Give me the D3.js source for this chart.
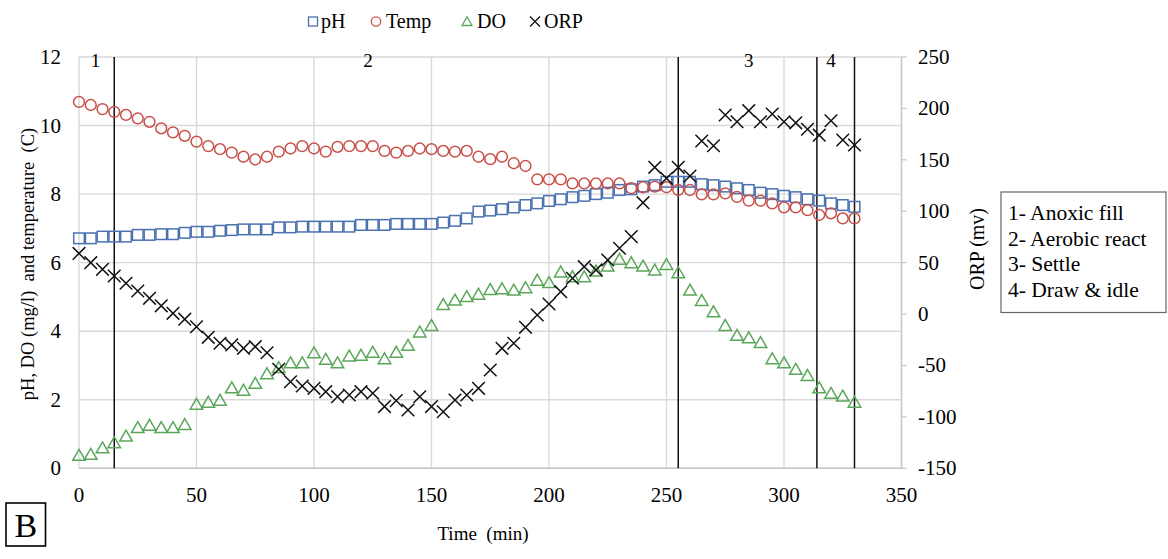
<!DOCTYPE html>
<html>
<head>
<meta charset="utf-8">
<script src="https://cdn.jsdelivr.net/npm/d3@7"></script>
<style>
  body { margin: 0; background: #fff; }
  svg text { font-family: "Liberation Serif", "Times New Roman", serif; fill: #000; }
</style>
</head>
<body>
<div id="chart"></div>
<script>
// sampling times (min)
const time = [0, 5, 10, 15, 20, 25, 30, 35, 40, 45, 50, 55, 60, 65, 70, 75, 80, 85, 90, 95,
  100, 105, 110, 115, 120, 125, 130, 135, 140, 145, 150, 155, 160, 165, 170, 175, 180, 185, 190, 195,
  200, 205, 210, 215, 220, 225, 230, 235, 240, 245, 250, 255, 260, 265, 270, 275, 280, 285, 290, 295,
  300, 305, 310, 315, 320, 325, 330];

const pH = [6.71, 6.71, 6.76, 6.76, 6.76, 6.81, 6.81, 6.83, 6.83, 6.87, 6.90, 6.90, 6.93, 6.95, 6.97, 6.97, 6.97, 7.03, 7.03, 7.05,
  7.05, 7.05, 7.05, 7.05, 7.10, 7.10, 7.10, 7.13, 7.13, 7.13, 7.13, 7.17, 7.22, 7.29, 7.49, 7.52, 7.56, 7.61, 7.68, 7.73,
  7.80, 7.85, 7.91, 7.95, 8.00, 8.04, 8.12, 8.14, 8.22, 8.26, 8.36, 8.36, 8.36, 8.29, 8.26, 8.22, 8.17, 8.12, 8.04, 8.00,
  7.95, 7.91, 7.85, 7.81, 7.73, 7.68, 7.63];

const temp = [10.69, 10.60, 10.48, 10.40, 10.31, 10.21, 10.11, 9.92, 9.80, 9.70, 9.53, 9.40, 9.31, 9.21, 9.09, 9.01, 9.09, 9.24, 9.33, 9.40,
  9.33, 9.24, 9.38, 9.40, 9.40, 9.40, 9.26, 9.21, 9.26, 9.33, 9.31, 9.26, 9.24, 9.26, 9.09, 9.02, 9.09, 8.90, 8.82, 8.43,
  8.43, 8.43, 8.31, 8.31, 8.31, 8.31, 8.31, 8.17, 8.20, 8.22, 8.20, 8.12, 8.12, 7.99, 7.99, 8.02, 7.92, 7.81, 7.81, 7.73,
  7.61, 7.61, 7.53, 7.39, 7.44, 7.29, 7.29];

const DO = [0.36, 0.39, 0.58, 0.73, 0.92, 1.17, 1.24, 1.17, 1.17, 1.26, 1.85, 1.91, 1.97, 2.33, 2.26, 2.46, 2.74, 2.92, 3.06, 3.06,
  3.35, 3.16, 3.06, 3.26, 3.28, 3.37, 3.18, 3.37, 3.57, 3.96, 4.15, 4.76, 4.89, 4.99, 5.06, 5.20, 5.22, 5.18, 5.25, 5.47,
  5.40, 5.71, 5.57, 5.57, 5.74, 5.88, 6.08, 5.98, 5.88, 5.77, 5.93, 5.69, 5.18, 4.88, 4.55, 4.15, 3.86, 3.79, 3.65, 3.18,
  3.06, 2.87, 2.69, 2.33, 2.17, 2.09, 1.91];

const ORP = [59, 50, 43.5, 37, 30, 22.4, 15.3, 8, 0.7, -5, -12.3, -22.6, -28.4, -30, -33.3, -31.7, -37.6, -53.7, -65.8, -70,
  -72.2, -75.5, -80.3, -78.7, -75.5, -77, -90, -84.2, -93.3, -80.4, -90, -95, -83.6, -78.7, -72.2, -54.4, -33.3, -28.4, -12.9, -0.9,
  9.8, 21.8, 34.8, 46.1, 42.9, 52.6, 64, 75.3, 108.3, 142.7, 132, 142.7, 134.3, 168.3, 163.7, 193.6, 187, 197.8, 187, 194.6,
  187, 186, 179.7, 174, 188, 169.3, 164.4];

// phase boundaries and labels
const phaseLines = [15, 255, 314, 330];
const phaseNames = ["1", "2", "3", "4"];
const phaseLabelAt = [7, 123, 285, 320];
const phaseLegend = ["1- Anoxic fill", "2- Aerobic react", "3- Settle", "4- Draw & idle"];

const xTicks = [0, 50, 100, 150, 200, 250, 300, 350];
const yLeftTicks = [0, 2, 4, 6, 8, 10, 12];
const yRightTicks = [-150, -100, -50, 0, 50, 100, 150, 200, 250];

const width = 1168, height = 559;
const plotLeft = 79, plotRight = 901.5, plotTop = 57, plotBottom = 468.3;

const svg = d3.select("#chart").append("svg")
  .attr("width", width)
  .attr("height", height);

const x = d3.scaleLinear().domain([0, 350]).range([plotLeft, plotRight]);
const yL = d3.scaleLinear().domain([0, 12]).range([plotBottom, plotTop]);
const yR = d3.scaleLinear().domain([-150, 250]).range([plotBottom, plotTop]);

const gridColor = "#d9d9d9";

// grid
svg.append("g").selectAll("line")
  .data(yLeftTicks)
  .join("line")
  .attr("x1", plotLeft).attr("x2", plotRight)
  .attr("y1", d => yL(d)).attr("y2", d => yL(d))
  .attr("stroke", gridColor).attr("stroke-width", 1.4);

svg.append("g").selectAll("line")
  .data(xTicks)
  .join("line")
  .attr("x1", d => x(d)).attr("x2", d => x(d))
  .attr("y1", plotTop).attr("y2", plotBottom)
  .attr("stroke", gridColor).attr("stroke-width", 1.4);

// right axis ticks
svg.append("g").selectAll("line")
  .data(yRightTicks)
  .join("line")
  .attr("x1", plotRight).attr("x2", plotRight + 5)
  .attr("y1", d => yR(d)).attr("y2", d => yR(d))
  .attr("stroke", "#c8c8c8").attr("stroke-width", 1.3);

svg.append("line")
  .attr("x1", plotRight).attr("x2", plotRight)
  .attr("y1", plotTop).attr("y2", plotBottom)
  .attr("stroke", "#c8c8c8").attr("stroke-width", 1.4);
svg.append("line")
  .attr("x1", plotLeft).attr("x2", plotRight)
  .attr("y1", plotBottom).attr("y2", plotBottom)
  .attr("stroke", "#c8c8c8").attr("stroke-width", 1.4);

// tick labels
svg.append("g").selectAll("text")
  .data(yLeftTicks)
  .join("text")
  .attr("x", 61).attr("y", d => yL(d))
  .attr("text-anchor", "end")
  .attr("dominant-baseline", "central")
  .style("font-size", "21px")
  .text(d => d);

svg.append("g").selectAll("text")
  .data(yRightTicks)
  .join("text")
  .attr("x", 918).attr("y", d => yR(d))
  .attr("dominant-baseline", "central")
  .style("font-size", "21px")
  .text(d => d);

svg.append("g").selectAll("text")
  .data(xTicks)
  .join("text")
  .attr("x", d => x(d)).attr("y", 495)
  .attr("text-anchor", "middle")
  .attr("dominant-baseline", "central")
  .style("font-size", "21px")
  .text(d => d);

// axis titles
svg.append("text")
  .attr("transform", "translate(28,264) rotate(-90)")
  .attr("text-anchor", "middle")
  .attr("dominant-baseline", "central")
  .style("font-size", "18.5px")
  .style("white-space", "pre")
  .text("pH, DO (mg/l)  and temperature  (C)");

svg.append("text")
  .attr("transform", "translate(977,249) rotate(-90)")
  .attr("text-anchor", "middle")
  .attr("dominant-baseline", "central")
  .style("font-size", "20px")
  .text("ORP (mv)");

svg.append("text")
  .attr("x", 483).attr("y", 533)
  .attr("text-anchor", "middle")
  .attr("dominant-baseline", "central")
  .style("font-size", "19px")
  .style("white-space", "pre")
  .text("Time  (min)");

// phase lines
svg.append("g").selectAll("line")
  .data(phaseLines)
  .join("line")
  .attr("x1", d => x(d)).attr("x2", d => x(d))
  .attr("y1", plotTop).attr("y2", plotBottom)
  .attr("stroke", "#111").attr("stroke-width", 1.5);

svg.append("g").selectAll("text")
  .data(phaseNames)
  .join("text")
  .attr("x", (d, i) => x(phaseLabelAt[i])).attr("y", 60)
  .attr("text-anchor", "middle")
  .attr("dominant-baseline", "central")
  .style("font-size", "19px")
  .text(d => d);

// marker shapes
const blue = "#4a72b0", red = "#c9504a", green = "#5aa75a";

function triPath(cx, cy, s) {
  const h = s * 0.87;
  return `M${cx},${cy - h * 0.6}L${cx + s / 2},${cy + h * 0.4}L${cx - s / 2},${cy + h * 0.4}Z`;
}
function crossPath(cx, cy, s) {
  return `M${cx - s},${cy - s}L${cx + s},${cy + s}M${cx - s},${cy + s}L${cx + s},${cy - s}`;
}

const gPH = svg.append("g");
gPH.selectAll("rect").data(time).join("rect")
  .attr("x", d => x(d) - 5.3).attr("y", (d, i) => yL(pH[i]) - 5.3)
  .attr("width", 10.6).attr("height", 10.6)
  .attr("fill", "none").attr("stroke", blue).attr("stroke-width", 1.5);

const gT = svg.append("g");
gT.selectAll("circle").data(time).join("circle")
  .attr("cx", d => x(d)).attr("cy", (d, i) => yL(temp[i]))
  .attr("r", 5.4)
  .attr("fill", "none").attr("stroke", red).attr("stroke-width", 1.5);

const gDO = svg.append("g");
gDO.selectAll("path").data(time).join("path")
  .attr("d", (d, i) => triPath(x(d), yL(DO[i]), 12.5))
  .attr("fill", "none").attr("stroke", green).attr("stroke-width", 1.5);

const gORP = svg.append("g");
gORP.selectAll("path").data(time).join("path")
  .attr("d", (d, i) => crossPath(x(d), yR(ORP[i]), 6.3))
  .attr("fill", "none").attr("stroke", "#111").attr("stroke-width", 1.5);

// top legend
const leg = svg.append("g");
leg.append("rect").attr("x", 308.5).attr("y", 17).attr("width", 9).attr("height", 9)
  .attr("fill", "none").attr("stroke", blue).attr("stroke-width", 1.3);
leg.append("text").attr("x", 321).attr("y", 28).style("font-size", "20px").text("pH");
leg.append("circle").attr("cx", 376).attr("cy", 21.5).attr("r", 4.7)
  .attr("fill", "none").attr("stroke", red).attr("stroke-width", 1.3);
leg.append("text").attr("x", 386).attr("y", 28).style("font-size", "20px").text("Temp");
leg.append("path").attr("d", triPath(467, 22, 10))
  .attr("fill", "none").attr("stroke", green).attr("stroke-width", 1.3);
leg.append("text").attr("x", 477).attr("y", 28).style("font-size", "20px").text("DO");
leg.append("path").attr("d", crossPath(535, 21.5, 5))
  .attr("fill", "none").attr("stroke", "#111").attr("stroke-width", 1.3);
leg.append("text").attr("x", 544).attr("y", 28).style("font-size", "20px").text("ORP");

// phase legend box
svg.append("rect")
  .attr("x", 1001).attr("y", 192).attr("width", 165).attr("height", 120.5)
  .attr("fill", "#fff").attr("stroke", "#666").attr("stroke-width", 1.2);
svg.append("g").selectAll("text")
  .data(phaseLegend)
  .join("text")
  .attr("x", 1008).attr("y", (d, i) => 213 + i * 25.5)
  .attr("dominant-baseline", "central")
  .style("font-size", "21.5px")
  .text(d => d);

// panel letter
svg.append("rect")
  .attr("x", 6).attr("y", 503).attr("width", 39.5).attr("height", 43)
  .attr("fill", "none").attr("stroke", "#000").attr("stroke-width", 1.6);
svg.append("text")
  .attr("x", 25.8).attr("y", 525.5)
  .attr("text-anchor", "middle")
  .attr("dominant-baseline", "central")
  .style("font-size", "34px")
  .text("B");
</script>
</body>
</html>
